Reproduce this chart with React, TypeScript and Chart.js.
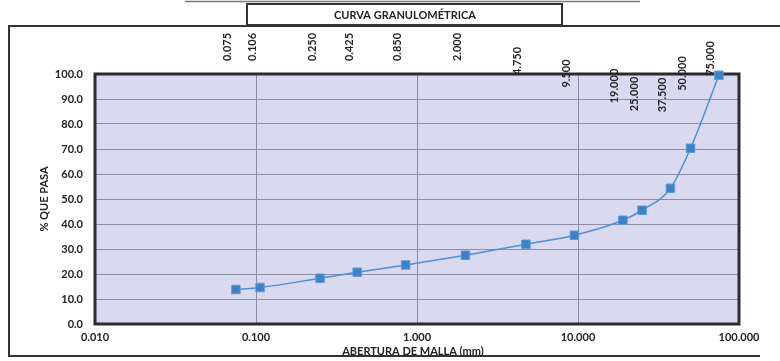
import React, { useEffect, useRef } from "react";
import { Chart, registerables } from "chart.js";

Chart.register(...registerables);

const sieveSizes = [0.075, 0.106, 0.25, 0.425, 0.85, 2.0, 4.75, 9.5, 19.0, 25.0, 37.5, 50.0, 75.0];
const percentPassing = [13.8, 14.6, 18.3, 20.7, 23.6, 27.5, 31.9, 35.5, 41.5, 45.5, 54.3, 70.3, 99.5];
const sieveLabels = ["0.075", "0.106", "0.250", "0.425", "0.850", "2.000", "4.750", "9.500", "19.000", "25.000", "37.500", "50.000", "75.000"];
const sieveLabelLevels = [110.8, 110.8, 110.8, 110.8, 110.8, 110.8, 105.2, 100.2, 95.2, 92, 91.6, 100.2, 106.2];
const xTickValues = [0.01, 0.1, 1, 10, 100];
const chartTitle = "CURVA GRANULOMÉTRICA";
const xTitle = "ABERTURA DE MALLA (mm)";
const yTitle = "% QUE PASA";

const FONT = "Lato, 'Liberation Sans', sans-serif";
const INK = "#222226";

const decorPlugin = {
  id: "decor",
  beforeDraw(chart: any) {
    const { ctx, chartArea, width, height } = chart;
    ctx.save();
    ctx.fillStyle = "#ffffff";
    ctx.fillRect(0, 0, width, height);
    ctx.fillStyle = "#d9d9ef";
    ctx.fillRect(chartArea.left, chartArea.top, chartArea.right - chartArea.left, chartArea.bottom - chartArea.top);
    // outer frame
    ctx.strokeStyle = "#333333";
    ctx.lineWidth = 2;
    ctx.beginPath();
    ctx.moveTo(780, 26);
    ctx.lineTo(9, 26);
    ctx.lineTo(9, 356);
    ctx.lineTo(760, 356);
    ctx.stroke();
    // faint line at very top
    ctx.strokeStyle = "#777777";
    ctx.lineWidth = 1.5;
    ctx.beginPath();
    ctx.moveTo(185, 1.5);
    ctx.lineTo(640, 1.5);
    ctx.stroke();
    // title box
    ctx.fillStyle = "#ffffff";
    ctx.fillRect(247, 4, 315, 21);
    ctx.strokeStyle = "#333333";
    ctx.lineWidth = 2;
    ctx.strokeRect(247, 4, 315, 21);
    ctx.fillStyle = INK;
    ctx.font = `bold 11px ${FONT}`;
    ctx.textAlign = "center";
    ctx.textBaseline = "middle";
    ctx.fillText(chartTitle, 405, 15.5);
    // axis titles
    ctx.font = `bold 11px ${FONT}`;
    ctx.fillText(xTitle, (chartArea.left + chartArea.right) / 2 - 4, 351);
    ctx.save();
    ctx.translate(44, (chartArea.top + chartArea.bottom) / 2);
    ctx.rotate(-Math.PI / 2);
    ctx.fillText(yTitle, 0, 0);
    ctx.restore();
    ctx.restore();
  },
  beforeDatasetsDraw(chart: any) {
    const { ctx, chartArea } = chart;
    ctx.save();
    ctx.strokeStyle = "#2b2b30";
    ctx.lineWidth = 3;
    ctx.strokeRect(chartArea.left, chartArea.top, chartArea.right - chartArea.left, chartArea.bottom - chartArea.top);
    ctx.restore();
  },
  afterDatasetsDraw(chart: any) {
    const { ctx } = chart;
    const xs = chart.scales.x;
    const ys = chart.scales.y;
    ctx.save();
    ctx.fillStyle = INK;
    ctx.font = `bold 11px ${FONT}`;
    ctx.textAlign = "center";
    ctx.textBaseline = "middle";
    sieveLabels.forEach((lab, i) => {
      const x = xs.getPixelForValue(sieveSizes[i]) - 8;
      const y = ys.getPixelForValue(sieveLabelLevels[i]);
      ctx.save();
      ctx.translate(x, y);
      ctx.rotate(-Math.PI / 2);
      ctx.fillText(lab, 0, 0);
      ctx.restore();
    });
    ctx.restore();
  },
};

export default function App() {
  const canvasRef = useRef<HTMLCanvasElement | null>(null);

  useEffect(() => {
    document.body.style.margin = "0";
    const canvas = canvasRef.current;
    if (!canvas) return;
    const chart = new Chart(canvas, {
      type: "line",
      data: {
        datasets: [
          {
            data: sieveSizes.map((x, i) => ({ x, y: percentPassing[i] })),
            borderColor: "#4f8fd2",
            borderWidth: 1.5,
            pointStyle: "rect",
            pointRadius: 6,
            pointBackgroundColor: "#3b82c8",
            pointBorderColor: "#5b9bd8",
            pointBorderWidth: 1,
            cubicInterpolationMode: "monotone",
            clip: false,
          } as any,
        ],
      },
      options: {
        animation: false,
        responsive: false,
        maintainAspectRatio: false,
        layout: { padding: { left: 0, right: 41, top: 74, bottom: 0 } },
        plugins: { legend: { display: false }, tooltip: { enabled: false }, title: { display: false } },
        scales: {
          x: {
            type: "logarithmic",
            min: 0.01,
            max: 100,
            afterBuildTicks: (s: any) => {
              s.ticks = xTickValues.map((v) => ({ value: v }));
            },
            afterFit: (s: any) => {
              s.height = 37;
            },
            ticks: {
              autoSkip: false,
              maxRotation: 0,
              padding: 7,
              color: INK,
              font: { family: FONT, size: 11, weight: "bold" },
              callback: (v: any) => Number(v).toFixed(3),
            },
            grid: { color: "#8d8da4", lineWidth: 1, drawTicks: false },
            border: { display: false },
          },
          y: {
            min: 0,
            max: 100,
            afterFit: (s: any) => {
              s.width = 95;
            },
            ticks: {
              stepSize: 10,
              padding: 12,
              color: INK,
              font: { family: FONT, size: 11, weight: "bold" },
              callback: (v: any) => Number(v).toFixed(1),
            },
            grid: { color: "#8d8da4", lineWidth: 1, drawTicks: false },
            border: { display: false },
          },
        },
      } as any,
      plugins: [decorPlugin],
    });
    return () => chart.destroy();
  }, []);

  return (
    <div style={{ width: 780, height: 361 }}>
      <canvas ref={canvasRef} width={780} height={361} style={{ display: "block" }} />
    </div>
  );
}
